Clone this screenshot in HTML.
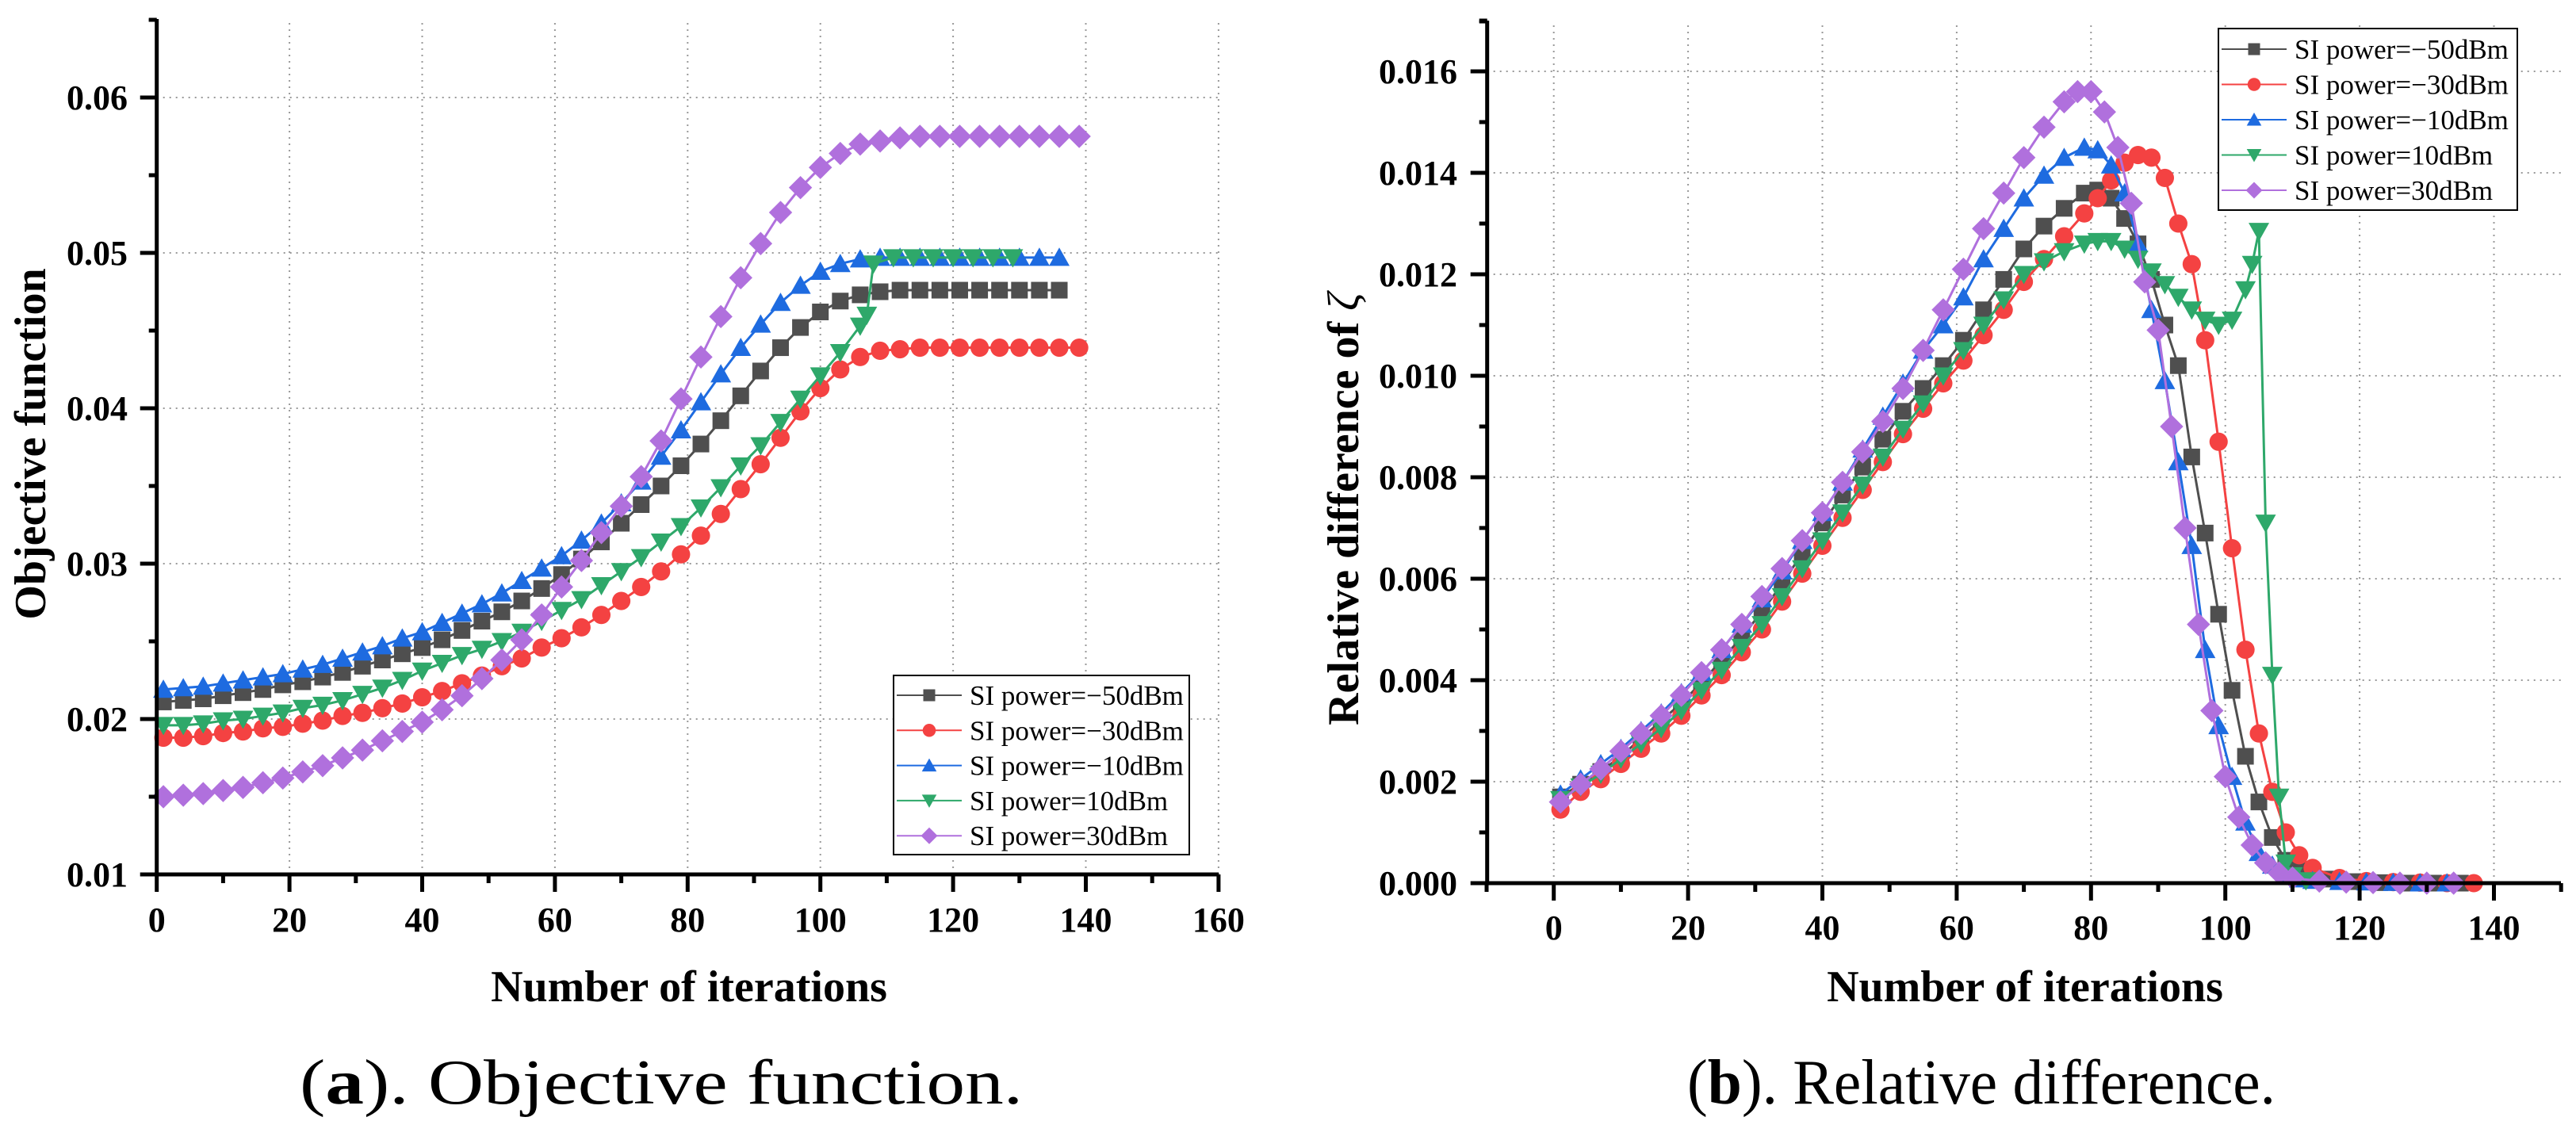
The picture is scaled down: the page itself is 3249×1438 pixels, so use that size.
<!DOCTYPE html>
<html><head><meta charset="utf-8">
<style>
html,body{margin:0;padding:0;background:#fff;}
svg{display:block;}
text{font-family:"Liberation Serif",serif;}
</style></head>
<body>
<svg id="fig" width="3249" height="1438" viewBox="0 0 3249 1438" xmlns="http://www.w3.org/2000/svg">
<rect x="0" y="0" width="3249" height="1438" fill="#fff"/>
<g id="chartA"></g>
<g id="chartB"></g>
<text x="378" y="1392" font-size="80" textLength="912" lengthAdjust="spacingAndGlyphs">(<tspan font-weight="bold">a</tspan>). Objective function.</text>
<text x="2128" y="1392" font-size="80" textLength="742" lengthAdjust="spacingAndGlyphs">(<tspan font-weight="bold">b</tspan>). Relative difference.</text>
</svg>
<script>
// ---------- Chart A data (objective function, values x1e-3) ----------
const seriesNames = ["SI power=\u221250dBm","SI power=\u221230dBm","SI power=\u221210dBm","SI power=10dBm","SI power=30dBm"];
const aX_m50 = [1,4,7,10,13,16,19,22,25,28,31,34,37,40,43,46,49,52,55,58,61,64,67,70,73,76,79,82,85,88,91,94,97,100,103,106,109,112,115,118,121,124,127,130,133,136];
const aY_m50 = [21.1,21.2,21.3,21.5,21.7,21.9,22.2,22.4,22.7,23.0,23.4,23.8,24.2,24.6,25.1,25.7,26.3,26.9,27.6,28.4,29.3,30.3,31.4,32.6,33.8,35.0,36.3,37.7,39.2,40.8,42.4,43.9,45.2,46.2,46.9,47.3,47.5,47.6,47.6,47.6,47.6,47.6,47.6,47.6,47.6,47.6];
const aX_m30 = [1,4,7,10,13,16,19,22,25,28,31,34,37,40,43,46,49,52,55,58,61,64,67,70,73,76,79,82,85,88,91,94,97,100,103,106,109,112,115,118,121,124,127,130,133,136,139];
const aY_m30 = [18.8,18.8,18.9,19.1,19.2,19.4,19.5,19.7,19.9,20.2,20.4,20.7,21.0,21.4,21.8,22.3,22.8,23.4,23.9,24.6,25.2,25.9,26.7,27.6,28.5,29.5,30.6,31.8,33.2,34.8,36.4,38.1,39.8,41.3,42.5,43.3,43.7,43.8,43.9,43.9,43.9,43.9,43.9,43.9,43.9,43.9,43.9];
const aX_m10 = [1,4,7,10,13,16,19,22,25,28,31,34,37,40,43,46,49,52,55,58,61,64,67,70,73,76,79,82,85,88,91,94,97,100,103,106,109,112,115,118,121,124,127,130,133,136];
const aY_m10 = [21.9,22.0,22.1,22.3,22.5,22.7,22.9,23.2,23.5,23.9,24.3,24.7,25.2,25.6,26.2,26.8,27.4,28.1,28.9,29.7,30.5,31.5,32.6,33.9,35.3,36.9,38.6,40.4,42.2,43.9,45.4,46.8,47.9,48.8,49.3,49.6,49.7,49.7,49.7,49.7,49.7,49.7,49.7,49.7,49.7,49.7];
const aX_p10 = [1,4,7,10,13,16,19,22,25,28,31,34,37,40,43,46,49,52,55,58,61,64,67,70,73,76,79,82,85,88,91,94,97,100,103,106,107,108,111,114,117,120,123,126,129];
const aY_p10 = [19.6,19.6,19.7,19.9,20.0,20.2,20.4,20.7,20.9,21.2,21.6,22.0,22.5,23.1,23.6,24.1,24.5,25.0,25.6,26.3,27.0,27.7,28.6,29.5,30.4,31.4,32.4,33.6,34.9,36.3,37.6,39.1,40.6,42.1,43.6,45.3,46.0,49.3,49.7,49.7,49.7,49.7,49.7,49.7,49.7];
const aX_p30 = [1,4,7,10,13,16,19,22,25,28,31,34,37,40,43,46,49,52,55,58,61,64,67,70,73,76,79,82,85,88,91,94,97,100,103,106,109,112,115,118,121,124,127,130,133,136,139];
const aY_p30 = [15.0,15.1,15.2,15.4,15.6,15.9,16.2,16.6,17.0,17.5,18.0,18.6,19.2,19.8,20.6,21.5,22.6,23.8,25.1,26.7,28.5,30.2,32.0,33.7,35.6,37.9,40.6,43.3,45.9,48.4,50.6,52.6,54.2,55.5,56.4,57.0,57.2,57.4,57.5,57.5,57.5,57.5,57.5,57.5,57.5,57.5,57.5];
const aXTicks = [0,20,40,60,80,100,120,140,160];
const aYTicks = [0.01,0.02,0.03,0.04,0.05,0.06];
const aYTickLabels = ["0.01","0.02","0.03","0.04","0.05","0.06"];

// ---------- Chart B data (relative difference, values x1e-3) ----------
const bX_m50 = [1,4,7,10,13,16,19,22,25,28,31,34,37,40,43,46,49,52,55,58,61,64,67,70,73,76,79,81,83,85,87,89,91,93,95,97,99,101,103,105,107,109,111,115,119,123,127,131,135];
const bY_m50 = [1.70,1.95,2.2,2.5,2.85,3.2,3.55,3.95,4.4,4.85,5.35,5.9,6.5,7.1,7.65,8.2,8.75,9.3,9.75,10.2,10.7,11.3,11.9,12.5,12.95,13.3,13.6,13.66,13.5,13.1,12.6,11.9,11.0,10.2,8.4,6.9,5.3,3.8,2.5,1.6,0.9,0.45,0.25,0.08,0.03,0.01,0,0,0];
const bX_m30 = [1,4,7,10,13,16,19,22,25,28,31,34,37,40,43,46,49,52,55,58,61,64,67,70,73,76,79,81,83,85,87,89,91,93,95,97,99,101,103,105,107,109,111,113,117,121,125,129,133,137];
const bY_m30 = [1.45,1.8,2.05,2.35,2.65,2.95,3.3,3.7,4.1,4.55,5.0,5.55,6.1,6.65,7.2,7.75,8.3,8.85,9.35,9.85,10.3,10.8,11.3,11.85,12.3,12.75,13.2,13.5,13.85,14.2,14.35,14.3,13.9,13.0,12.2,10.7,8.7,6.6,4.6,2.95,1.8,1.0,0.55,0.3,0.1,0.04,0.02,0.01,0,0];
const bX_m10 = [1,4,7,10,13,16,19,22,25,28,31,34,37,40,43,46,49,52,55,58,61,64,67,70,73,76,79,81,83,85,87,89,91,93,95,97,99,101,103,105,107,109,111,113,117,121,125,129,133];
const bY_m10 = [1.75,2.05,2.35,2.65,3.0,3.35,3.75,4.15,4.6,5.1,5.6,6.15,6.75,7.3,7.9,8.55,9.2,9.85,10.5,11.0,11.55,12.3,12.9,13.5,13.95,14.3,14.5,14.45,14.15,13.6,12.6,11.3,9.9,8.3,6.65,4.6,3.1,2.1,1.2,0.6,0.35,0.15,0.08,0.05,0.03,0.02,0.01,0,0];
const bX_p10 = [1,4,7,10,13,16,19,22,25,28,31,34,37,40,43,46,49,52,55,58,61,64,67,70,73,76,79,81,83,85,87,89,91,93,95,97,99,101,103,104,105,106,107,108,109,110,112];
const bY_p10 = [1.65,1.9,2.15,2.45,2.75,3.05,3.4,3.8,4.2,4.65,5.1,5.65,6.2,6.75,7.3,7.85,8.4,8.95,9.45,10.0,10.5,11.0,11.5,12.0,12.25,12.45,12.6,12.65,12.65,12.5,12.3,12.05,11.8,11.55,11.3,11.1,11.0,11.1,11.7,12.2,12.85,7.1,4.1,1.7,0.4,0.15,0.05];
const bX_p30 = [1,4,7,10,13,16,19,22,25,28,31,34,37,40,43,46,49,52,55,58,61,64,67,70,73,76,78,80,82,84,86,88,90,92,94,96,98,100,102,104,106,108,110,114,118,122,126,130,134];
const bY_p30 = [1.6,1.95,2.25,2.6,2.95,3.3,3.7,4.15,4.6,5.1,5.65,6.2,6.75,7.3,7.9,8.5,9.1,9.75,10.5,11.3,12.1,12.9,13.6,14.3,14.9,15.4,15.6,15.6,15.2,14.5,13.4,11.85,10.9,9.0,7.0,5.1,3.4,2.1,1.3,0.75,0.4,0.2,0.1,0.04,0.02,0.01,0,0,0];
const bXTicks = [0,20,40,60,80,100,120,140];
const bYTicks = [0,0.002,0.004,0.006,0.008,0.010,0.012,0.014,0.016];
const bYTickLabels = ["0.000","0.002","0.004","0.006","0.008","0.010","0.012","0.014","0.016"];

const colors = ["#4f4f4f","#f44242","#1e6be0","#2ea86a","#b070dd"];
const shapes = ["square","circle","up","down","diamond"];
const NS = "http://www.w3.org/2000/svg";

function mk(tag, attrs, parent){
  const e = document.createElementNS(NS, tag);
  for (const k in attrs) e.setAttribute(k, attrs[k]);
  parent.appendChild(e);
  return e;
}
function marker(parent, shape, cx, cy, s, color){
  let e;
  if (shape === "square") e = mk("rect",{x:cx-s/2,y:cy-s/2,width:s,height:s,fill:color},parent);
  else if (shape === "circle") e = mk("circle",{cx:cx,cy:cy,r:s*0.55,fill:color},parent);
  else if (shape === "up") e = mk("polygon",{points:`${cx},${cy-s*0.6} ${cx+s*0.62},${cy+s*0.5} ${cx-s*0.62},${cy+s*0.5}`,fill:color},parent);
  else if (shape === "down") e = mk("polygon",{points:`${cx},${cy+s*0.6} ${cx+s*0.62},${cy-s*0.5} ${cx-s*0.62},${cy-s*0.5}`,fill:color},parent);
  else e = mk("polygon",{points:`${cx},${cy-s*0.7} ${cx+s*0.7},${cy} ${cx},${cy+s*0.7} ${cx-s*0.7},${cy}`,fill:color},parent);
  return e;
}

function drawChart(g, cfg){
  const sx = v => cfg.x0 + (v - cfg.xmin) * cfg.xs;
  const sy = v => cfg.y0 - (v - cfg.ymin) * cfg.ys;
  const grid = mk("g",{},g);
  
  
  cfg.xTicks.forEach(t => { if (t !== 0 || cfg.gridAtZero) mk("line",{x1:sx(t),x2:sx(t),y1:cfg.y0,y2:cfg.yTop,stroke:"#999","stroke-width":2,"stroke-dasharray":"2 6"},grid); });
  cfg.yTicks.forEach(t => { if (t !== cfg.ymin) mk("line",{x1:cfg.axX,x2:cfg.xRight,y1:sy(t),y2:sy(t),stroke:"#999","stroke-width":2,"stroke-dasharray":"2 6"},grid); });
  cfg.series.forEach((s, i) => {
    const sg = mk("g",{},g);
    
    
    const pts = s.x.map((xv, j) => sx(xv) + "," + sy(s.y[j] * 0.001)).join(" ");
    mk("polyline",{points:pts,fill:"none",stroke:colors[i],"stroke-width":3},sg);
    s.x.forEach((xv, j) => {
      const m = marker(sg, shapes[i], sx(xv), sy(s.y[j] * 0.001), 21, colors[i]);
      
      
    });
  });
  const ax = mk("g",{},g);
  
  
  mk("line",{x1:cfg.axX,x2:cfg.axX,y1:cfg.axTop,y2:cfg.y0+2.5,stroke:"#000","stroke-width":5},ax);
  mk("line",{x1:cfg.axX-2.5,x2:cfg.xRight,y1:cfg.y0,y2:cfg.y0,stroke:"#000","stroke-width":5},ax);
  mk("line",{x1:cfg.axX-10,x2:cfg.axX,y1:cfg.axTop+1.5,y2:cfg.axTop+1.5,stroke:"#000","stroke-width":4},ax);
  for (let v = cfg.xMinorStart; v <= cfg.xMinorEnd + 1e-9; v += cfg.xMinor) {
    const major = cfg.xTicks.indexOf(v) >= 0;
    mk("line",{x1:sx(v),x2:sx(v),y1:cfg.y0,y2:cfg.y0 + (major ? 22 : 11),stroke:"#000","stroke-width":5},ax);
  }
  cfg.xTicks.forEach(t => {
    const tl = mk("text",{x:sx(t),y:cfg.xLabelY,"font-size":44,"font-weight":"bold","text-anchor":"middle"},ax);
    tl.textContent = String(t);
    
    
  });
  for (let k = 0; ; k++) {
    const v = cfg.ymin + k * cfg.yMinor;
    if (v > cfg.yMaxTick + 1e-9) break;
    const major = (k % 2 === 0);
    mk("line",{x1:cfg.axX - (major ? 21 : 10),x2:cfg.axX,y1:sy(v),y2:sy(v),stroke:"#000","stroke-width":5},ax);
  }
  cfg.yTicks.forEach((t, i) => {
    const tl = mk("text",{x:cfg.yLabelRight,y:sy(t)+15,"font-size":44,"font-weight":"bold","text-anchor":"end"},ax);
    tl.textContent = cfg.yTickLabels[i];
    
    
  });
  const xt = mk("text",{x:cfg.xTitleX,y:1263,"font-size":56,"font-weight":"bold","text-anchor":"middle"},g);
  xt.textContent = "Number of iterations";
  
  
  const yt = mk("text",{x:0,y:0,"font-size":56,"font-weight":"bold","text-anchor":"middle",transform:`translate(${cfg.yTitleX},${cfg.yTitleY}) rotate(-90)`},g);
  yt.innerHTML = cfg.yTitle;
  
  
  const lg = mk("g",{},g);
  
  
  const L = cfg.legend;
  mk("rect",{x:L.x,y:L.y,width:L.w,height:L.h,fill:"#fff",stroke:"#000","stroke-width":2},lg);
  seriesNames.forEach((nm, i) => {
    const cy = L.row0 + i * L.dy;
    const en = mk("g",{},lg);
    
    
    mk("line",{x1:L.x+4,x2:L.x+86,y1:cy,y2:cy,stroke:colors[i],"stroke-width":2},en);
    marker(en, shapes[i], L.x+45, cy, 15, colors[i]);
    const t = mk("text",{x:L.x+96,y:cy+12,"font-size":35},en);
    t.textContent = nm;
  });
}

drawChart(document.getElementById("chartA"), {
  x0:197.7, xmin:0, xs:8.37, y0:1103, ymin:0.01, ys:19600,
  axX:197.7, axTop:24, yTop:26, xRight:1537, gridAtZero:false,
  xTicks:aXTicks, yTicks:aYTicks, yTickLabels:aYTickLabels,
  xMinor:10, xMinorStart:0, xMinorEnd:160, yMinor:0.005, yMaxTick:0.065,
  xLabelY:1175, yLabelRight:161, xTitleX:869, yTitleX:57, yTitleY:560,
  yTitle:"Objective function",
  series:[{key:"m50",x:aX_m50,y:aY_m50},{key:"m30",x:aX_m30,y:aY_m30},{key:"m10",x:aX_m10,y:aY_m10},{key:"p10",x:aX_p10,y:aY_p10},{key:"p30",x:aX_p30,y:aY_p30}],
  legend:{x:1127,y:852,w:373,h:226,row0:877,dy:44.3}
});
drawChart(document.getElementById("chartB"), {
  x0:1959.7, xmin:0, xs:8.47, y0:1114, ymin:0, ys:64000,
  axX:1875.7, axTop:26, yTop:32, xRight:3230, gridAtZero:true,
  xTicks:bXTicks, yTicks:bYTicks, yTickLabels:bYTickLabels,
  xMinor:10, xMinorStart:-10, xMinorEnd:150, yMinor:0.001, yMaxTick:0.017,
  xLabelY:1185, yLabelRight:1838, xTitleX:2554, yTitleX:1713, yTitleY:642,
  yTitle:"Relative difference of <tspan font-style=\"italic\" font-weight=\"normal\">\u03B6</tspan>",
  series:[{key:"m50",x:bX_m50,y:bY_m50},{key:"m30",x:bX_m30,y:bY_m30},{key:"m10",x:bX_m10,y:bY_m10},{key:"p10",x:bX_p10,y:bY_p10},{key:"p30",x:bX_p30,y:bY_p30}],
  legend:{x:2798,y:36,w:377,h:229,row0:62,dy:44.5}
});
</script>
</body></html>
